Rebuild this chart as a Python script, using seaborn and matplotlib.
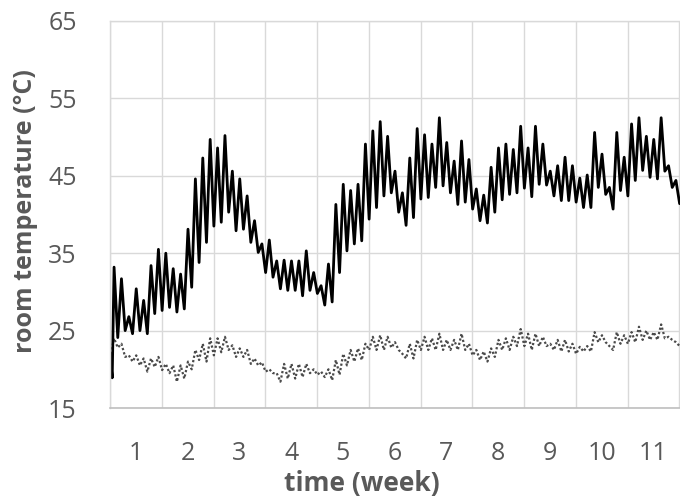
import numpy as np
import pandas as pd
import matplotlib
matplotlib.use("Agg")
import matplotlib.pyplot as plt
import seaborn as sns

# ---- data ----
week_labels = ["1", "2", "3", "4", "5", "6", "7", "8", "9", "10", "11"]
y_ticks = [15, 25, 35, 45, 55, 65]

# solid series: start values, then one daily peak and the following trough per day
solid_start = [22.1, 18.9]
solid_peaks = [33.2, 31.7, 26.8, 30.4, 28.9, 33.4, 35.5, 35.0, 33.0, 32.3,
               38.1, 44.6, 47.3, 49.7, 48.6, 50.2, 45.6, 44.6, 42.4, 39.2,
               36.2, 36.7, 34.0, 34.1, 34.0, 34.0, 35.3, 32.5, 30.8, 33.6,
               41.3, 43.9, 43.1, 43.9, 49.1, 50.8, 52.0, 50.1, 45.6, 42.8,
               47.3, 51.1, 50.3, 49.1, 52.5, 49.3, 46.9, 49.5, 47.1, 43.3,
               42.5, 46.1, 48.6, 49.1, 48.4, 51.4, 48.6, 51.4, 49.1, 45.6,
               46.3, 47.4, 46.3, 44.7, 45.1, 50.6, 47.8, 43.5, 50.6, 47.4,
               51.7, 52.5, 50.1, 49.7, 52.5, 46.3, 44.4]
solid_troughs = [24.1, 25.0, 24.6, 25.0, 24.6, 27.2, 27.6, 28.0, 27.4, 27.8,
                 30.6, 33.8, 36.4, 38.5, 39.0, 40.3, 37.9, 38.1, 36.4, 35.1,
                 32.5, 31.9, 30.4, 30.2, 30.2, 29.5, 30.2, 29.8, 28.3, 28.7,
                 32.5, 35.3, 36.2, 36.6, 39.4, 40.9, 42.4, 42.8, 40.3, 38.6,
                 39.6, 42.0, 42.2, 43.5, 43.7, 42.8, 41.3, 41.6, 40.7, 39.2,
                 38.9, 40.3, 41.9, 42.6, 42.8, 43.4, 42.3, 43.9, 43.8, 42.4,
                 41.8, 41.8, 41.6, 40.9, 40.9, 43.5, 42.6, 40.7, 43.1, 42.4,
                 44.4, 45.7, 44.8, 44.6, 45.6, 43.5, 41.4]

# dotted series
dotted_start = [22.0]
dotted_peaks = [24.0, 23.3, 21.8, 21.8, 21.4, 21.4, 21.6, 20.7, 20.5, 20.5,
                21.0, 22.5, 23.3, 24.0, 24.0, 24.2, 23.1, 22.7, 22.5, 21.4,
                20.9, 20.0, 19.5, 20.7, 20.7, 20.7, 20.7, 20.0, 19.7, 20.0,
                21.2, 22.0, 22.5, 22.7, 23.3, 24.2, 24.4, 24.2, 23.5, 22.0,
                23.3, 23.8, 24.2, 24.0, 24.6, 23.8, 23.8, 24.6, 23.3, 22.5,
                22.3, 22.7, 23.8, 24.0, 24.2, 25.2, 24.6, 24.6, 24.2, 23.3,
                23.8, 23.8, 23.3, 22.9, 23.0, 24.8, 24.4, 23.0, 24.8, 24.4,
                24.8, 25.5, 25.0, 24.8, 25.8, 24.2, 23.5]
dotted_troughs = [22.8, 21.6, 21.0, 20.5, 19.7, 20.3, 19.9, 19.5, 18.4, 18.8,
                  20.0, 21.2, 21.0, 21.8, 22.2, 22.5, 21.6, 21.6, 20.7, 20.5,
                  19.7, 19.5, 18.4, 18.8, 18.8, 19.0, 19.5, 19.3, 19.0, 18.6,
                  19.3, 20.5, 21.0, 21.2, 22.5, 22.5, 22.5, 22.8, 22.5, 21.4,
                  21.4, 22.5, 22.5, 22.5, 22.5, 22.5, 22.5, 22.5, 21.8, 21.2,
                  21.0, 21.6, 22.5, 22.5, 23.0, 23.0, 22.5, 23.0, 23.0, 22.5,
                  22.3, 22.3, 22.0, 22.3, 22.3, 23.5, 23.5, 22.5, 23.3, 23.3,
                  23.5, 23.8, 23.8, 23.8, 24.0, 23.8, 23.0]


def build(start, start_x, peaks, troughs):
    days = np.arange(len(peaks))
    xs = np.concatenate([start_x, np.ravel(np.column_stack([days + 0.55, days + 1.05]))])
    ys = np.concatenate([start, np.ravel(np.column_stack([peaks, troughs]))])
    return pd.DataFrame({"day": xs, "temp": ys})


df_solid = build(solid_start, [0.0, 0.3], solid_peaks, solid_troughs)
df_dot = build(dotted_start, [0.1], dotted_peaks, dotted_troughs)

sns.set_theme(style="white")
plt.rcParams["font.family"] = ["Open Sans", "DejaVu Sans"]

fig = plt.figure(figsize=(6.8, 5.01), dpi=100)
ax = fig.add_axes([110 / 680, 93 / 501, 570 / 680, 387 / 501])

grid_c = "#d9d9d9"
text_c = "#595959"

sns.lineplot(data=df_dot, x="day", y="temp", ax=ax, color="#4a4a4a",
             linewidth=1.6, linestyle=(0, (1, 1)), sort=False, estimator=None)
sns.lineplot(data=df_solid, x="day", y="temp", ax=ax, color="black",
             linewidth=2.0, sort=False, estimator=None)

ax.set_xlim(0, 77.1)
ax.set_ylim(15, 65)

n_weeks = len(week_labels)
ax.set_xticks(np.arange(0, 7 * n_weeks + 1, 7))
ax.set_xticklabels([])
ax.set_xticks(np.arange(n_weeks) * 7 + 3.5, minor=True)
ax.set_xticklabels(week_labels, minor=True)
ax.set_yticks(y_ticks)
ax.set_yticklabels([str(v) for v in y_ticks])

ax.grid(True, which="major", color=grid_c, linewidth=1.0)
ax.set_axisbelow(True)
ax.tick_params(axis="both", which="both", length=0)
ax.tick_params(axis="x", which="minor", labelsize=18, labelcolor=text_c, pad=24)
ax.tick_params(axis="y", which="major", labelsize=18, labelcolor=text_c, pad=24)

for side in ["top", "left"]:
    ax.spines[side].set_color(grid_c)
    ax.spines[side].set_linewidth(1.0)
ax.spines["right"].set_visible(False)
ax.spines["bottom"].set_color("#bfbfbf")
ax.spines["bottom"].set_linewidth(1.2)

ax.set_xlabel("")
ax.set_ylabel("room temperature (°C)", fontsize=18, fontweight="bold",
              color=text_c)
ax.yaxis.set_label_coords(-72 / 570, 0.51)
fig.text(362 / 680, 1 - 483 / 501, "time (week)", fontsize=19,
         fontweight="bold", color=text_c, ha="center", va="center")

fig.savefig("out.png", dpi=100)
